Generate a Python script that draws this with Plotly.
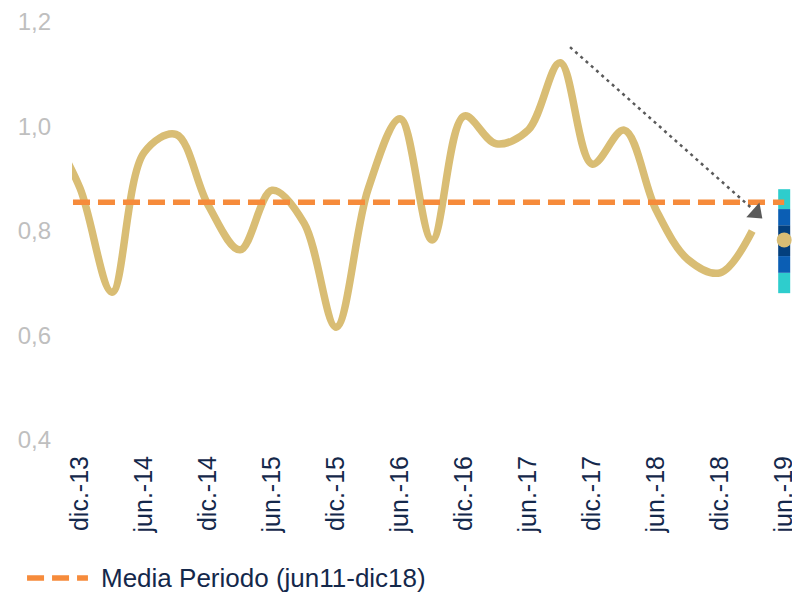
import plotly.graph_objects as go

# ---- data ----
quarters = ["sep.-13", "dic.-13", "mar.-14", "jun.-14", "sep.-14", "dic.-14",
            "mar.-15", "jun.-15", "sep.-15", "dic.-15", "mar.-16", "jun.-16",
            "sep.-16", "dic.-16", "mar.-17", "jun.-17", "sep.-17", "dic.-17",
            "mar.-18", "jun.-18", "sep.-18", "dic.-18", "mar.-19", "jun.-19"]
indicator = [1.00, 0.882, 0.683, 0.950, 0.985, 0.850, 0.764, 0.878, 0.815,
             0.616, 0.880, 1.015, 0.783, 1.020, 0.967, 0.993, 1.122, 0.928,
             0.993, 0.840, 0.745, 0.720, 0.800]
media_periodo = 0.855
media_label = "Media Periodo (jun11-dic18)"
forecast_period = "jun.-19"
forecast_central = 0.783
fan_bounds = [0.681, 0.720, 0.752, 0.811, 0.842, 0.880]
fan_colors = ["#2ECDCD", "#0B5EB4", "#033F7D", "#0B5EB4", "#2ECDCD"]
tick_labels = quarters[1::2]
y_ticks = [0.4, 0.6, 0.8, 1.0, 1.2]
arrow_start = (16.31, 1.152)
arrow_base = (21.94, 0.846)
arrow_head = (22.12, 0.835)

idx = {q: i for i, q in enumerate(quarters)}
x_ind = [idx[q] for q in quarters[:len(indicator)]]
xf = idx[forecast_period]

LINE = "#D9BD74"
ORANGE = "#F68B3B"
NAVY = "#14284B"
FONT = "Liberation Sans, Arial, sans-serif"

fig = go.Figure()

# fan chart bar
for lo, hi, col in zip(fan_bounds[:-1], fan_bounds[1:], fan_colors):
    fig.add_trace(go.Bar(x=[xf], y=[hi - lo], base=[lo], width=0.375,
                         marker=dict(color=col, line=dict(width=0)),
                         showlegend=False, hoverinfo="skip"))

# main series
fig.add_trace(go.Scatter(x=x_ind, y=indicator, mode="lines",
                         line=dict(color=LINE, width=7.5, shape="spline", smoothing=1.0),
                         showlegend=False))

# period mean
fig.add_trace(go.Scatter(x=[0, xf], y=[media_periodo, media_periodo], mode="lines",
                         line=dict(color=ORANGE, width=5.5, dash="17px,8px"),
                         name=media_label, showlegend=False))

# forecast central point
fig.add_trace(go.Scatter(x=[xf], y=[forecast_central], mode="markers",
                         marker=dict(color=LINE, size=15), showlegend=False))

# dotted arrow
fig.add_trace(go.Scatter(x=[arrow_start[0], arrow_base[0]], y=[arrow_start[1], arrow_base[1]],
                         mode="lines", line=dict(color="#5A5A5A", width=2.5, dash="3px,4px"),
                         showlegend=False, hoverinfo="skip"))
fig.add_trace(go.Scatter(x=[arrow_head[0]], y=[arrow_head[1]], mode="markers",
                         marker=dict(symbol="triangle-right", size=17, angle=42,
                                     color="#5A5A5A"),
                         showlegend=False, hoverinfo="skip"))

# manual legend
fig.add_shape(type="line", xref="paper", yref="paper", x0=-0.062, x1=0.022,
              y0=-0.330, y1=-0.330, line=dict(color=ORANGE, width=5.5, dash="17px,8px"))
fig.add_annotation(xref="paper", yref="paper", x=0.037, y=-0.330, xanchor="left",
                   yanchor="middle", text=media_label, showarrow=False,
                   font=dict(family=FONT, size=26, color=NAVY))

# the page body has an 8px margin, so the figure is 8px smaller than the window
fig.update_layout(
    width=792, height=584,
    margin=dict(l=64, r=3, t=14, b=152),
    paper_bgcolor="white", plot_bgcolor="white",
    separators=",.",
    barmode="overlay",
    showlegend=False,
    font=dict(family=FONT),
)
fig.update_xaxes(range=[0.75, 23.4], tickmode="array",
                 tickvals=[idx[t] for t in tick_labels], ticktext=tick_labels,
                 tickangle=-90, showgrid=False, zeroline=False, showline=False,
                 ticks="", ticklabelstandoff=10, automargin=False,
                 tickfont=dict(family=FONT, size=25, color=NAVY))
fig.update_yaxes(range=[0.4, 1.2], tickmode="array", tickvals=y_ticks,
                 tickformat=".1f", showgrid=False, zeroline=False, showline=False,
                 ticks="", ticklabelstandoff=20, automargin=False,
                 tickfont=dict(family=FONT, size=24, color="#BFBFBF"))

fig.write_html("out.html")
